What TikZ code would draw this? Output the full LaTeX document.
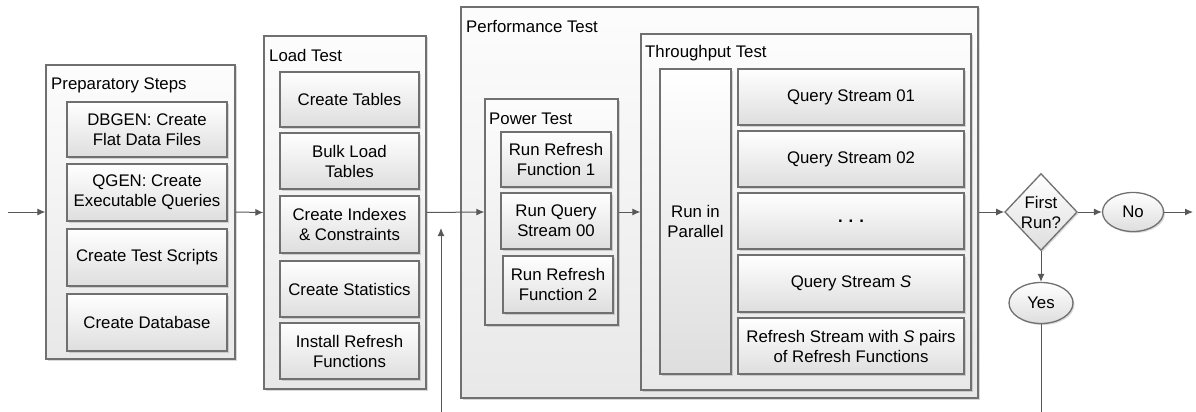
\documentclass[tikz,border=0pt]{standalone}
\usepackage{fontspec}
\setmainfont{Liberation Sans}
\usepackage{tikz}
\usetikzlibrary{shapes}
\usetikzlibrary{shadows}
\usetikzlibrary{arrows.meta}
\definecolor{Frame}{RGB}{112,112,112}
\definecolor{Wire}{RGB}{88,88,88}
\newcommand{\BoxFont}{\fontsize{16.8}{20}\selectfont}
\tikzstyle{Shadow}=[drop shadow={opacity=.3,shadow xshift=1.5pt,shadow yshift=-1.5pt}]
\tikzstyle{GroupBox}=[draw=Frame,line width=1.3pt,top color=black!1,
bottom color=black!9,inner sep=0pt,Shadow]
\tikzstyle{Box}=[draw=Frame,line width=1.3pt,top color=white,bottom color=black!13,
inner sep=0pt,align=center,font=\BoxFont,Shadow]
\tikzstyle{Title}=[anchor=west,inner sep=0pt,font=\BoxFont]
\tikzstyle{Edge}=[draw=Wire,line width=1pt]
\tikzstyle{Arrow}=[Edge,-{Latex[length=8pt,width=7pt]}]

\begin{document}
\begin{tikzpicture}[x=1pt,y=-1pt]
    \useasboundingbox(0,0)rectangle(1196,412);
    % preparatory steps
    \node[GroupBox,minimum width=189pt,minimum height=294pt](prep)at(140.5,212){};
    \node[Title](prept)at(51,85){Preparatory Steps};
    \node[Box,minimum width=160pt,minimum height=55pt](dbgen)at(147,129.5)
        {DBGEN: Create\\Flat Data Files};
    \node[Box,minimum width=160pt,minimum height=57pt](qgen)at(147,192.5)
        {QGEN: Create\\Executable Queries};
    \node[Box,minimum width=160pt,minimum height=57pt](scripts)at(147,257.5)
        {Create Test Scripts};
    \node[Box,minimum width=160pt,minimum height=57pt](database)at(147,322.5)
        {Create Database};
    % load test
    \node[GroupBox,minimum width=162pt,minimum height=353pt](load)at(345,212.5){};
    \node[Title](loadt)at(269,55){Load Test};
    \node[Box,minimum width=139pt,minimum height=55pt](tables)at(349.5,99.5)
        {Create Tables};
    \node[Box,minimum width=139pt,minimum height=56pt](bulk)at(349.5,161)
        {Bulk Load\\Tables};
    \node[Box,minimum width=139pt,minimum height=57pt](indexes)at(349.5,224.5)
        {Create Indexes\\\& Constraints};
    \node[Box,minimum width=139pt,minimum height=56pt](stats)at(349.5,289)
        {Create Statistics};
    \node[Box,minimum width=139pt,minimum height=56pt](install)at(349.5,351)
        {Install Refresh\\Functions};
    % performance test
    \node[GroupBox,minimum width=517pt,minimum height=391pt](perf)at(719.5,202.5){};
    \node[Title](perft)at(466,27){Performance Test};
    \node[GroupBox,minimum width=133pt,minimum height=226pt](power)at(551.5,212){};
    \node[Title](powert)at(489,119){Power Test};
    \node[Box,minimum width=110pt,minimum height=55pt](rf1)at(556,159.5)
        {Run Refresh\\Function 1};
    \node[Box,minimum width=110pt,minimum height=56pt](qs00)at(556,221)
        {Run Query\\Stream 00};
    \node[Box,minimum width=110pt,minimum height=57pt](rf2)at(558,284.5)
        {Run Refresh\\Function 2};
    \node[GroupBox,minimum width=330pt,minimum height=356pt](thru)at(806,212){};
    \node[Title](thrut)at(645,53){Throughput Test};
    \node[Box,minimum width=71pt,minimum height=305pt](parallel)at(695.5,221.5)
        {Run in\\Parallel};
    \node[Box,minimum width=226pt,minimum height=56pt](qs01)at(851,97)
        {Query Stream 01};
    \node[Box,minimum width=226pt,minimum height=56pt](qs02)at(851,159)
        {Query Stream 02};
    \node[Box,minimum width=226pt,minimum height=56pt](qsdots)at(851,221)
        {\textbf{.\hspace{6pt}.\hspace{6pt}.}};
    \node[Box,minimum width=226pt,minimum height=57pt](qss)at(851,283.5)
        {Query Stream \textit{S}};
    \node[Box,minimum width=226pt,minimum height=56pt](rs)at(851,346)
        {Refresh Stream with \textit{S} pairs\\of Refresh Functions};
    % decision
    \node[Box,diamond,minimum width=68pt,minimum height=77pt](first)at(1041,212)
        {First\\Run?};
    \node[Box,ellipse,minimum width=61pt,minimum height=39pt](no)at(1133,212){No};
    \node[Box,ellipse,minimum width=64pt,minimum height=41pt](yes)at(1041,303){Yes};
    \coordinate(in)at(8,212);
    \coordinate(out)at(1193,212);
    \coordinate(back)at(441,412);
    \coordinate(backend)at(441,228);
    \coordinate(down)at(1041,412);
    \draw[Arrow](in)--(prep.west);
    \draw[Arrow](prep.east)--(load.west);
    \draw[Arrow](load.east)--(power.west);
    \draw[Arrow](back)--(backend);
    \draw[Arrow](power.east)--(thru.west);
    \draw[Arrow](perf.east|-first.west)--(first.west);
    \draw[Arrow](first.east)--(no.west);
    \draw[Arrow](no.east)--(out);
    \draw[Arrow](first.south)--(yes.north);
    \draw[Edge](yes.south)--(down);
\end{tikzpicture}
\end{document}
